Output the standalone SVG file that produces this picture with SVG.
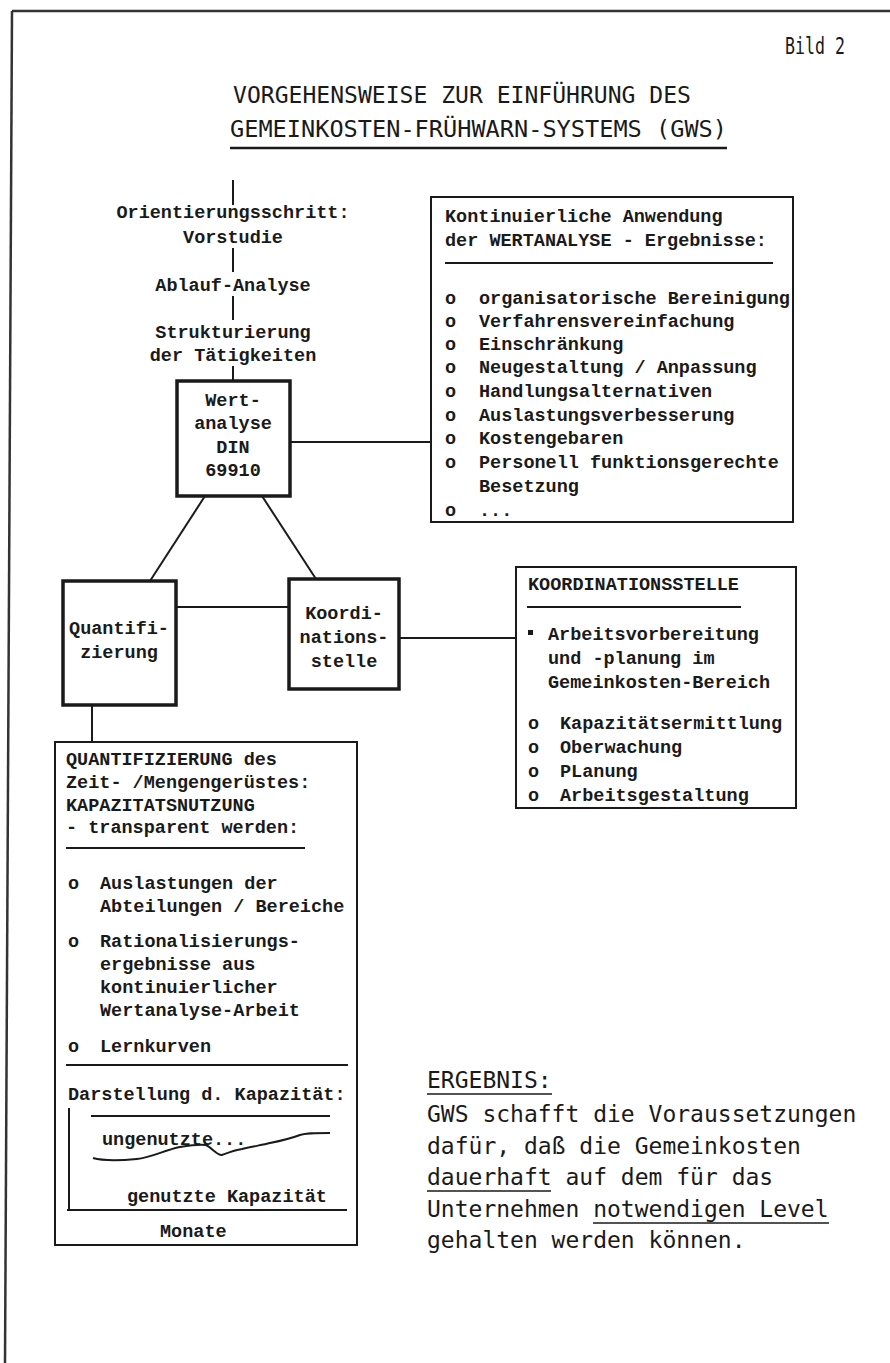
<svg xmlns="http://www.w3.org/2000/svg" width="890" height="1363" viewBox="0 0 890 1363">
<style>
.t{font-family:"Liberation Mono","Courier New",monospace;font-size:18.5px;font-weight:bold;fill:#1a1a1a}
.m{text-anchor:middle}
.h{font-family:"DejaVu Sans Mono","Liberation Mono",monospace;font-size:23px;fill:#1a1a1a}
.ln{stroke:#1a1a1a;stroke-width:2;fill:none}
.bx{stroke:#1a1a1a;stroke-width:2;fill:none}
.tb{stroke:#1a1a1a;stroke-width:3.5;fill:none}
.ul{stroke:#1a1a1a;stroke-width:1.5}
</style>
<rect x="0" y="0" width="890" height="1363" fill="#ffffff"/>
<g id="frame">
<line x1="12" y1="11" x2="890" y2="11" stroke="#333" stroke-width="2.5"/>
<line x1="12" y1="11" x2="5" y2="1363" stroke="#333" stroke-width="2.5"/>
</g>
<g id="title">
<text class="h" x="785" y="54" font-size="20" textLength="60" lengthAdjust="spacingAndGlyphs">Bild 2</text>
<text class="h" x="233" y="103" textLength="458" lengthAdjust="spacingAndGlyphs">VORGEHENSWEISE ZUR EINFÜHRUNG DES</text>
<text class="h" x="230" y="137" textLength="497" lengthAdjust="spacingAndGlyphs">GEMEINKOSTEN-FRÜHWARN-SYSTEMS (GWS)</text>
<line x1="230" y1="148" x2="727" y2="148" stroke="#1a1a1a" stroke-width="2.5"/>
</g>
<g id="connectors">
<line class="ln" x1="233" y1="180" x2="233" y2="205"/>
<line class="ln" x1="233" y1="248" x2="233" y2="272"/>
<line class="ln" x1="233" y1="296" x2="233" y2="320"/>
<line class="ln" x1="233" y1="366" x2="233" y2="381"/>
<line class="ln" x1="290" y1="442" x2="431" y2="442"/>
<line class="ln" x1="205" y1="496" x2="150" y2="581"/>
<line class="ln" x1="262" y1="496" x2="316" y2="579"/>
<line class="ln" x1="176" y1="607" x2="289" y2="607"/>
<line class="ln" x1="399" y1="638" x2="516" y2="638"/>
<line class="ln" x1="92" y1="705" x2="92" y2="742"/>
</g>
<g id="flow-steps">
<text class="t m" x="233" y="218">Orientierungsschritt:</text>
<text class="t m" x="233" y="243">Vorstudie</text>
<text class="t m" x="233" y="291">Ablauf-Analyse</text>
<text class="t m" x="233" y="338">Strukturierung</text>
<text class="t m" x="233" y="361">der Tätigkeiten</text>
</g>
<g id="wertanalyse">
<rect class="tb" x="177" y="381" width="113" height="115"/>
<text class="t m" x="233" y="406">Wert-</text>
<text class="t m" x="233" y="429">analyse</text>
<text class="t m" x="233" y="453">DIN</text>
<text class="t m" x="233" y="476">69910</text>
</g>
<g id="ergebnisse-box">
<rect class="bx" x="431" y="197" width="362" height="325"/>
<text class="t" x="445" y="222">Kontinuierliche Anwendung</text>
<text class="t" x="445" y="246">der WERTANALYSE - Ergebnisse:</text>
<line class="ln" x1="445" y1="263" x2="773" y2="263"/>
<text class="t" x="445" y="304">o</text><text class="t" x="479" y="304">organisatorische Bereinigung</text>
<text class="t" x="445" y="327">o</text><text class="t" x="479" y="327">Verfahrensvereinfachung</text>
<text class="t" x="445" y="350">o</text><text class="t" x="479" y="350">Einschränkung</text>
<text class="t" x="445" y="373">o</text><text class="t" x="479" y="373">Neugestaltung / Anpassung</text>
<text class="t" x="445" y="397">o</text><text class="t" x="479" y="397">Handlungsalternativen</text>
<text class="t" x="445" y="421">o</text><text class="t" x="479" y="421">Auslastungsverbesserung</text>
<text class="t" x="445" y="444">o</text><text class="t" x="479" y="444">Kostengebaren</text>
<text class="t" x="445" y="468">o</text><text class="t" x="479" y="468">Personell funktionsgerechte</text>
<text class="t" x="479" y="492">Besetzung</text>
<text class="t" x="445" y="516">o</text><text class="t" x="479" y="516">...</text>
</g>
<g id="quantifizierung">
<rect class="tb" x="63" y="581" width="113" height="124"/>
<text class="t m" x="119" y="634">Quantifi-</text>
<text class="t m" x="119" y="658">zierung</text>
</g>
<g id="koordinationsstelle">
<rect class="tb" x="289" y="579" width="110" height="110"/>
<text class="t m" x="344" y="619">Koordi-</text>
<text class="t m" x="344" y="643">nations-</text>
<text class="t m" x="344" y="667">stelle</text>
</g>
<g id="koordinationsstelle-box">
<rect class="bx" x="516" y="567" width="280" height="241"/>
<text class="t" x="528" y="590">KOORDINATIONSSTELLE</text>
<line class="ln" x1="527" y1="607" x2="741" y2="607"/>
<rect x="528" y="630" width="5" height="5" fill="#1a1a1a"/>
<text class="t" x="548" y="640">Arbeitsvorbereitung</text>
<text class="t" x="548" y="664">und -planung im</text>
<text class="t" x="548" y="688">Gemeinkosten-Bereich</text>
<text class="t" x="528" y="729">o</text><text class="t" x="560" y="729">Kapazitätsermittlung</text>
<text class="t" x="528" y="753">o</text><text class="t" x="560" y="753">Oberwachung</text>
<text class="t" x="528" y="777">o</text><text class="t" x="560" y="777">PLanung</text>
<text class="t" x="528" y="801">o</text><text class="t" x="560" y="801">Arbeitsgestaltung</text>
</g>
<g id="quantifizierung-box">
<rect class="bx" x="55" y="742" width="302" height="503"/>
<text class="t" x="66" y="765">QUANTIFIZIERUNG des</text>
<text class="t" x="66" y="788">Zeit- /Mengengerüstes:</text>
<text class="t" x="66" y="811">KAPAZITATSNUTZUNG</text>
<text class="t" x="66" y="833">- transparent werden:</text>
<line class="ln" x1="66" y1="848" x2="305" y2="848"/>
<text class="t" x="68" y="889">o</text><text class="t" x="100" y="889">Auslastungen der</text>
<text class="t" x="100" y="912">Abteilungen / Bereiche</text>
<text class="t" x="68" y="947">o</text><text class="t" x="100" y="947">Rationalisierungs-</text>
<text class="t" x="100" y="970">ergebnisse aus</text>
<text class="t" x="100" y="993">kontinuierlicher</text>
<text class="t" x="100" y="1016">Wertanalyse-Arbeit</text>
<text class="t" x="68" y="1052">o</text><text class="t" x="100" y="1052">Lernkurven</text>
<line class="ln" x1="66" y1="1065" x2="348" y2="1065"/>
<text class="t" x="68" y="1100">Darstellung d. Kapazität:</text>
<line class="ln" x1="69" y1="1108" x2="69" y2="1210"/>
<line class="ln" x1="91" y1="1116" x2="330" y2="1116"/>
<text class="t" x="102" y="1145">ungenutzte...</text>
<path class="ln" stroke-width="2.5" d="M93,1158 C100,1160 115,1161 137,1159 C150,1158 165,1150 180,1147 C192,1145 200,1144 206,1145 C212,1148 218,1156 222,1155 C230,1152 235,1150 242,1149 C255,1146 262,1145 270,1143 C280,1141 292,1138 300,1135 C306,1133 312,1133 330,1133"/>
<text class="t" x="127" y="1202">genutzte Kapazität</text>
<line class="ln" x1="67" y1="1210" x2="347" y2="1210"/>
<text class="t" x="160" y="1237">Monate</text>
</g>
<g id="ergebnis">
<text class="h" x="427" y="1088">ERGEBNIS:</text>
<line class="ul" x1="427" y1="1094" x2="552" y2="1094"/>
<text class="h" x="427" y="1122">GWS schafft die Voraussetzungen</text>
<text class="h" x="427" y="1154">dafür, daß die Gemeinkosten</text>
<text class="h" x="427" y="1185">dauerhaft auf dem für das</text>
<line class="ul" x1="427" y1="1191" x2="551" y2="1191"/>
<text class="h" x="427" y="1217">Unternehmen notwendigen Level</text>
<line class="ul" x1="593" y1="1223" x2="829" y2="1223"/>
<text class="h" x="427" y="1248">gehalten werden können.</text>
</g>
</svg>
